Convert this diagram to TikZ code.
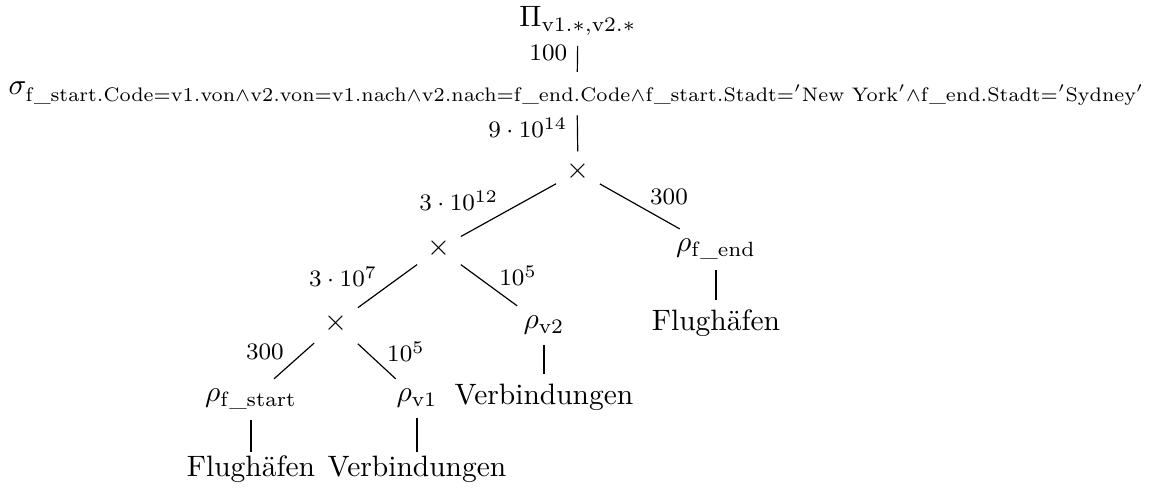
\documentclass[tikz,border=0pt]{standalone}
\usepackage{amsmath}
\usepackage{graphicx}
\begin{document}
\begin{tikzpicture}[x=0.339pt,y=-0.339pt,
  tn/.style={anchor=base,inner sep=3.33pt},
  lab/.style={font=\footnotesize,inner sep=3.33pt,yshift=2pt},
  labd/.style={font=\footnotesize,inner sep=3.33pt,yshift=3.2pt}]
\useasboundingbox (0,0) rectangle (1160,490);
\node[tn] (pi) at (578,27) {$\Pi_{\mathrm{v1.*,v2.*}}$};
\node[tn] (sigma) at (577,95) {$\sigma_{\scalebox{0.95}{$\scriptstyle\mathrm{f\_start.Code}=\mathrm{v1.von}\land\mathrm{v2.von}=\mathrm{v1.nach}\land\mathrm{v2.nach}=\mathrm{f\_end.Code}\land\mathrm{f\_start.Stadt}='\text{New York}'\land\mathrm{f\_end.Stadt}='\text{Sydney}'$}}$};
\node[tn] (x1) at (578,179) {$\times$};
\node[tn] (x2) at (439,256) {$\times$};
\node[tn] (rfe) at (716,252) {$\rho_{\mathrm{f\_end}}$};
\node[tn] (flr) at (716,331) {Flughäfen};
\node[tn] (x3) at (336,331) {$\times$};
\node[tn] (rv2) at (544,329) {$\rho_{\mathrm{v2}}$};
\node[tn] (vbr) at (544,405) {Verbindungen};
\node[tn] (rfs) at (251,402) {$\rho_{\mathrm{f\_start}}$};
\node[tn] (rv1) at (417,402) {$\rho_{\mathrm{v1}}$};
\node[tn] (fll) at (251,477) {Flughäfen};
\node[tn] (vbl) at (417,477) {Verbindungen};
\draw (pi) -- node[lab,left] (l1) {100} (sigma);
\draw (sigma) -- node[lab,left] (l2) {$9\cdot10^{14}$} (x1);
\draw (x1) -- node[labd,left] (l3) {$3\cdot10^{12}$} (x2);
\draw (x1) -- node[labd,right] (l4) {300} (rfe);
\draw (rfe) -- (flr);
\draw (x2) -- node[labd,left] (l5) {$3\cdot10^{7}$} (x3);
\draw (x2) -- node[labd,right] (l6) {$10^{5}$} (rv2);
\draw (rv2) -- (vbr);
\draw (x3) -- node[labd,left] (l7) {300} (rfs);
\draw (x3) -- node[labd,right] (l8) {$10^{5}$} (rv1);
\draw[shorten >=-2pt] (rfs) -- (fll);
\draw[shorten >=-2pt] (rv1) -- (vbl);
\end{tikzpicture}
\end{document}
